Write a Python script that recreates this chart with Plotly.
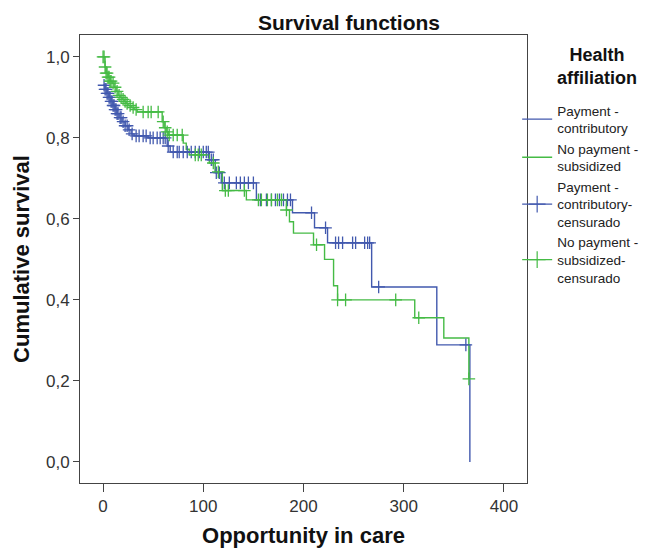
import plotly.graph_objects as go

# ---- data ----
# Payment - contributory (blue): event times and survival after each event
times_b = [0, 2, 4, 6, 8, 10, 12, 14, 16, 19, 22, 25, 28, 31, 45, 64, 67,
           106, 112, 118, 153, 189, 211, 224, 268, 333, 366]
surv_b = [0.93, 0.92, 0.91, 0.90, 0.89, 0.88, 0.87, 0.86, 0.85, 0.84, 0.83,
          0.82, 0.81, 0.805, 0.80, 0.78, 0.765, 0.746, 0.714, 0.689, 0.647,
          0.615, 0.578, 0.541, 0.432, 0.289, 0.0]
cens_b = [1, 2, 3, 4, 5, 6, 7, 8, 9, 10, 11, 12, 13, 14, 15, 17, 18, 20, 22,
          24, 26, 29, 33, 36, 40, 43, 47, 50, 54, 57, 60, 62, 65, 70, 74, 76,
          80, 84, 88, 92, 96, 100, 103, 105, 108, 110, 113, 116, 121, 126,
          133, 137, 141, 145, 150, 157, 163, 168, 172, 176, 180, 184, 187,
          208, 222, 232, 235, 239, 249, 252, 261, 264, 266, 275, 362]

# No payment - subsidized (green)
times_g = [0, 2, 3, 5, 7, 9, 11, 13, 15, 17, 19, 21, 23, 25, 28, 31, 34, 59,
           61, 63, 65, 80, 83, 86, 106, 112, 119, 143, 183, 186, 190, 210,
           221, 230, 234, 311, 340, 365]
surv_g = [1.0, 0.975, 0.96, 0.95, 0.94, 0.935, 0.925, 0.915, 0.905, 0.90,
          0.895, 0.89, 0.885, 0.88, 0.875, 0.87, 0.864, 0.84, 0.825, 0.815,
          0.807, 0.787, 0.772, 0.758, 0.738, 0.716, 0.67, 0.647, 0.622, 0.593,
          0.565, 0.536, 0.50, 0.435, 0.40, 0.356, 0.306, 0.205]
cens_g = [0, 1, 2, 3, 4, 5, 6, 7, 8, 10, 12, 14, 16, 18, 20, 22, 24, 27, 30,
          33, 40, 45, 48, 55, 60, 62, 64, 66, 70, 74, 79, 92, 95, 98, 110,
          115, 122, 125, 141, 155, 158, 164, 168, 174, 178, 183, 213, 234,
          242, 292, 315, 365]

y_tickvals = [0.0, 0.2, 0.4, 0.6, 0.8, 1.0]
y_ticktext = ["0,0", "0,2", "0,4", "0,6", "0,8", "1,0"]
x_tickvals = [0, 100, 200, 300, 400]

legend_title = "<b>Health<br>affiliation</b>"
names = ["Payment -<br>contributory", "No payment -<br>subsidized",
         "Payment -<br>contributory-<br>censurado",
         "No payment -<br>subsidized-<br>censurado"]

BLUE = "#4259AE"
GREEN = "#45BB45"


def step_at(times, surv, t):
    v = surv[0]
    for ti, si in zip(times, surv):
        if ti <= t:
            v = si
        else:
            break
    return v


fig = go.Figure()
fig.add_trace(go.Scatter(x=times_b, y=surv_b, mode="lines", line_shape="hv",
                         line=dict(color=BLUE, width=1.4), name=names[0]))
fig.add_trace(go.Scatter(x=times_g, y=surv_g, mode="lines", line_shape="hv",
                         line=dict(color=GREEN, width=1.4), name=names[1]))
fig.add_trace(go.Scatter(x=cens_b, y=[step_at(times_b, surv_b, t) for t in cens_b],
                         mode="markers", showlegend=False,
                         marker=dict(symbol="cross-thin", size=9,
                                     line=dict(color=BLUE, width=1.3))))
fig.add_trace(go.Scatter(x=cens_g, y=[step_at(times_g, surv_g, t) for t in cens_g],
                         mode="markers", showlegend=False,
                         marker=dict(symbol="cross-thin", size=9,
                                     line=dict(color=GREEN, width=1.3))))
# legend entries for censored marks
fig.add_trace(go.Scatter(x=[None], y=[None], mode="lines+markers", name=names[2],
                         line=dict(color=BLUE, width=1.2),
                         marker=dict(symbol="cross-thin", size=12,
                                     line=dict(color=BLUE, width=1.2))))
fig.add_trace(go.Scatter(x=[None], y=[None], mode="lines+markers", name=names[3],
                         line=dict(color=GREEN, width=1.2),
                         marker=dict(symbol="cross-thin", size=12,
                                     line=dict(color=GREEN, width=1.2))))

FONT = "Liberation Sans, Arial, sans-serif"
# page body has an 8px margin, so the figure is 8px smaller than the window
W, H = 654, 542
fig.update_layout(
    width=W, height=H,
    margin=dict(l=72, r=135, t=27, b=67, autoexpand=False),
    paper_bgcolor="white", plot_bgcolor="white",
    font=dict(family=FONT, size=17, color="#333333"),
    title=dict(text="<b>Survival functions</b>", x=341 / W, xref="container",
               y=1 - 15 / H, yref="container", yanchor="middle", xanchor="center",
               font=dict(size=21, color="#111111")),
    showlegend=True,
    legend=dict(x=0.978, xanchor="left", y=0.866, yanchor="top",
                font=dict(size=13.5, color="#222222"), itemwidth=30,
                bgcolor="rgba(0,0,0,0)", tracegroupgap=0),
    annotations=[dict(text=legend_title, xref="paper", yref="paper",
                      x=1.1566, y=0.9286, xanchor="center", yanchor="middle",
                      showarrow=False, align="center",
                      font=dict(size=18, color="#111111"))],
)
fig.update_xaxes(range=[-23, 423], tickvals=x_tickvals, ticks="outside",
                 ticklen=8, tickcolor="#444", showline=True, linecolor="#444",
                 linewidth=1, mirror=True, showgrid=False, zeroline=False,
                 tickfont=dict(size=17, color="#333333"),
                 title=dict(text="<b>Opportunity in care</b>", standoff=12,
                            font=dict(size=22, color="#111111")))
fig.update_yaxes(range=[-0.052, 1.054], tickvals=y_tickvals, ticktext=y_ticktext,
                 ticks="outside", ticklen=6, tickcolor="#444", showline=True,
                 linecolor="#444", linewidth=1, mirror=True, showgrid=False,
                 zeroline=False, tickfont=dict(size=17, color="#333333"),
                 title=dict(text="<b>Cumulative survival</b>", standoff=10,
                            font=dict(size=22, color="#111111")))

fig.write_html("out.html")
